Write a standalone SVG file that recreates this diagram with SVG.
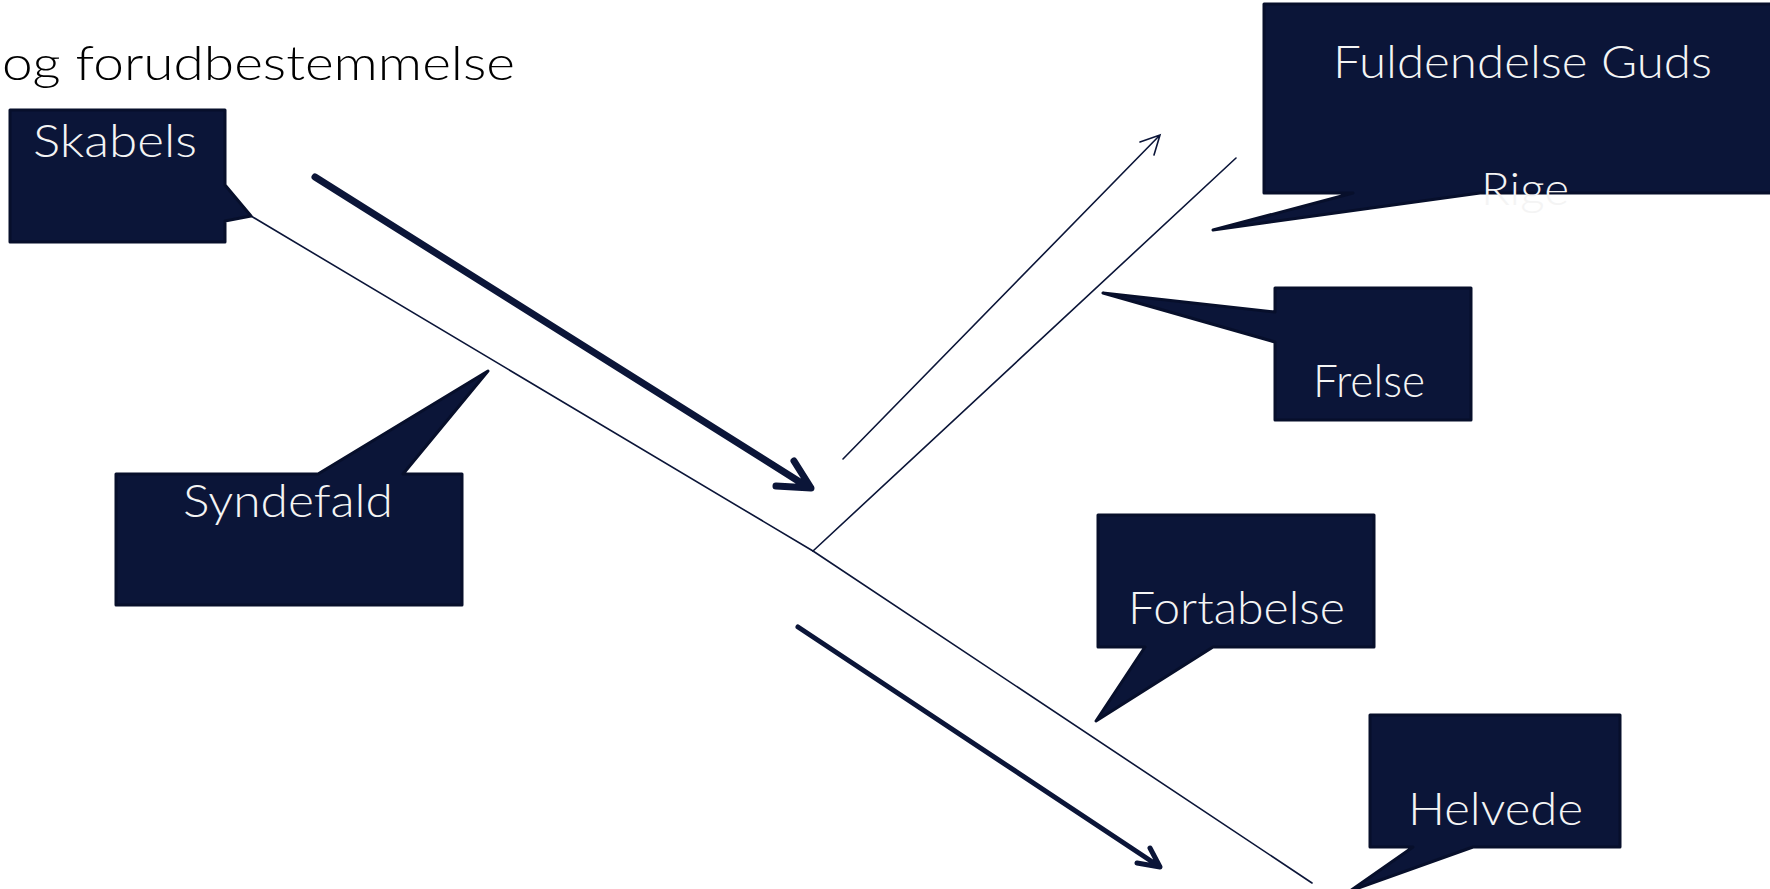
<svg xmlns="http://www.w3.org/2000/svg" width="1770" height="889" viewBox="0 0 1770 889">
<style>
.box{fill:#0b1538;stroke:#070f2b;stroke-width:3;stroke-linejoin:round}
.lbl{font-family:Lato,"Noto Sans","Liberation Sans",sans-serif;font-size:45px;fill:#f4f4f4;font-weight:300}
.thin{stroke:#0b1538;stroke-width:1.6;fill:none;stroke-linecap:round}
.thick{stroke:#0b1538;fill:none;stroke-linecap:round;stroke-linejoin:round}
.title{font-family:Lato,"Noto Sans","Liberation Sans",sans-serif;font-size:47px;fill:#000;font-weight:300}
</style>
<rect width="1770" height="889" fill="#fff"/>
<text class="title" x="2" y="80" textLength="513" lengthAdjust="spacingAndGlyphs">og forudbestemmelse</text>
<g id="connectors">
<line class="thin" x1="251" y1="216" x2="813" y2="551"/>
<line class="thin" x1="813" y1="551" x2="1236" y2="158"/>
<line class="thin" x1="813" y1="551" x2="1312" y2="883"/>
<path class="thin" d="M843,459 L1160,135 M1140,142 L1160,135 L1154,155" stroke-width="2.2"/>
<path class="thick" stroke-width="7" d="M315,177 L803,484 M776,486 L811,488 L794,461"/>
<path class="thick" stroke-width="5" d="M798,627 L1157,865 M1137,863 L1160,867 L1150,848"/>
</g>
<g id="skabels">
<path class="box" d="M10,110 H225 V185 L251,216 L225,221 V242 H10 Z"/>
<text class="lbl" x="33" y="157" textLength="164" lengthAdjust="spacingAndGlyphs">Skabels</text>
</g>
<g id="syndefald">
<path class="box" d="M116,474 H318 L488,371 L403,474 H462 V605 H116 Z"/>
<text class="lbl" x="183" y="517" textLength="210" lengthAdjust="spacingAndGlyphs">Syndefald</text>
</g>
<g id="fuldendelse">
<path class="box" d="M1264,4 H1780 V193 H1480 L1213,230 L1353,193 H1264 Z"/>
<text class="lbl" x="1333" y="78" textLength="379" lengthAdjust="spacingAndGlyphs">Fuldendelse Guds</text>
<text class="lbl" x="1481" y="205" textLength="88" lengthAdjust="spacingAndGlyphs">Rige</text>
</g>
<g id="frelse">
<path class="box" d="M1275,288 H1471 V420 H1275 V342 L1103,293 L1275,312 Z"/>
<text class="lbl" x="1313" y="397" textLength="112" lengthAdjust="spacingAndGlyphs">Frelse</text>
</g>
<g id="fortabelse">
<path class="box" d="M1098,515 H1374 V647 H1213 L1096,721 L1145,647 H1098 Z"/>
<text class="lbl" x="1128" y="624" textLength="217" lengthAdjust="spacingAndGlyphs">Fortabelse</text>
</g>
<g id="helvede">
<path class="box" d="M1370,715 H1620 V847 H1473 L1350,891 L1413,847 H1370 Z"/>
<text class="lbl" x="1408" y="825" textLength="175" lengthAdjust="spacingAndGlyphs">Helvede</text>
</g>
</svg>
